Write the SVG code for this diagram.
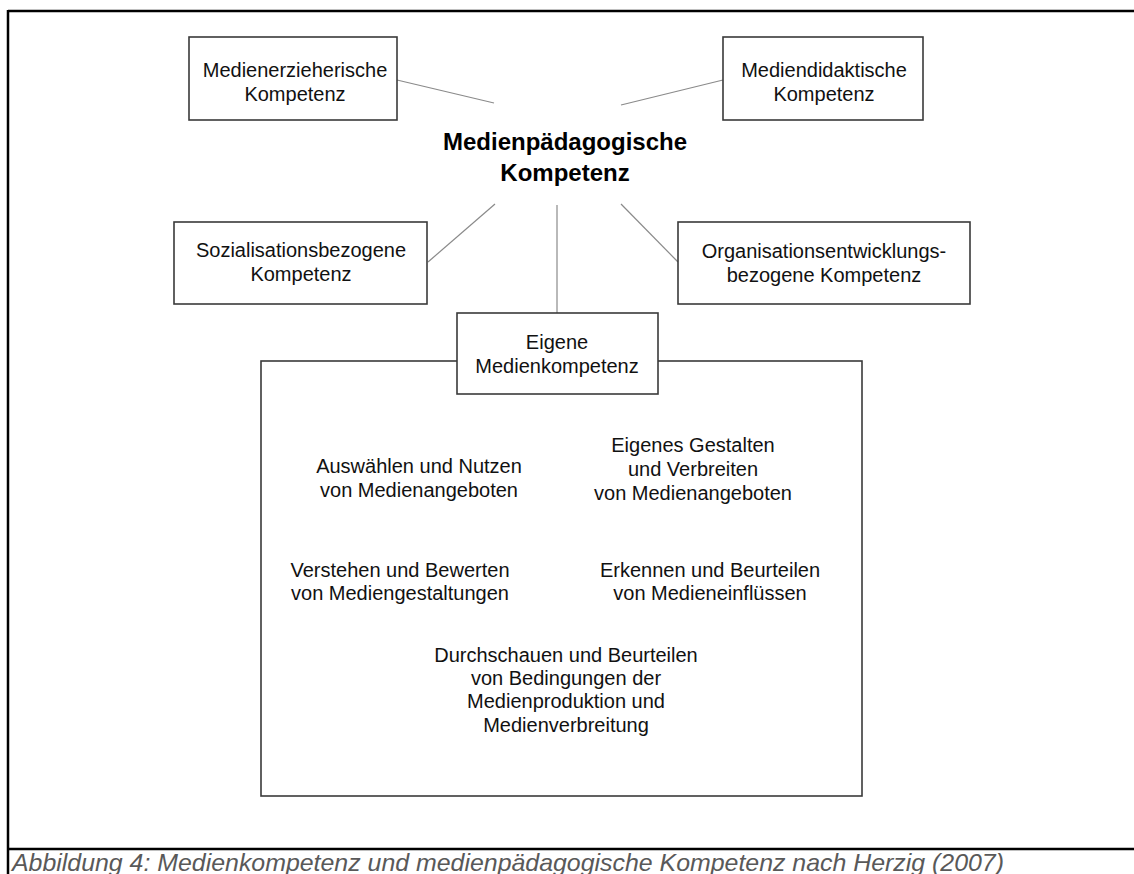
<svg xmlns="http://www.w3.org/2000/svg" width="1134" height="874" viewBox="0 0 1134 874">
<style>
.box{fill:#fff;stroke:#3a3a3a;stroke-width:1.6}
.t{font-family:"Liberation Sans",Arial,sans-serif;font-size:20px;fill:#111;text-anchor:middle}
.title{font-family:"Liberation Sans",Arial,sans-serif;font-size:24px;font-weight:bold;fill:#000;text-anchor:middle}
.con{stroke:#8a8a8a;stroke-width:1.2;fill:none}
.frame{stroke:#000;stroke-width:2.5;fill:none}
.cap{font-family:"Liberation Sans",Arial,sans-serif;font-size:24px;font-style:italic;fill:#595959}
</style>
<rect width="1134" height="874" fill="#fff"/>
<g id="frame">
<path class="frame" d="M8,11 H1134 M8,10 V874 M8,849 H1134"/>
</g>
<g id="connectors">
<line class="con" x1="397" y1="80" x2="494" y2="103"/>
<line class="con" x1="621" y1="105" x2="723" y2="80"/>
<line class="con" x1="428" y1="262" x2="495" y2="204"/>
<line class="con" x1="557" y1="205" x2="557" y2="313"/>
<line class="con" x1="621" y1="204" x2="678" y2="262"/>
</g>
<g id="center">
<text class="title" x="565" y="150">Medienpädagogische</text>
<text class="title" x="565" y="181">Kompetenz</text>
</g>
<g id="n-medienerzieherisch">
<rect class="box" x="189" y="37" width="208" height="83"/>
<text class="t" x="295" y="77">Medienerzieherische</text>
<text class="t" x="295" y="101">Kompetenz</text>
</g>
<g id="n-mediendidaktisch">
<rect class="box" x="723" y="37" width="200" height="83"/>
<text class="t" x="824" y="77">Mediendidaktische</text>
<text class="t" x="824" y="101">Kompetenz</text>
</g>
<g id="n-sozialisation">
<rect class="box" x="174" y="222" width="253" height="82"/>
<text class="t" x="301" y="257">Sozialisationsbezogene</text>
<text class="t" x="301" y="281">Kompetenz</text>
</g>
<g id="n-organisation">
<rect class="box" x="678" y="222" width="292" height="82"/>
<text class="t" x="824" y="258">Organisationsentwicklungs-</text>
<text class="t" x="824" y="282">bezogene Kompetenz</text>
</g>
<g id="n-medienkompetenz">
<rect class="box" x="261" y="361" width="601" height="435"/>
<text class="t" x="419" y="473">Auswählen und Nutzen</text>
<text class="t" x="419" y="497">von Medienangeboten</text>
<text class="t" x="693" y="452">Eigenes Gestalten</text>
<text class="t" x="693" y="476">und Verbreiten</text>
<text class="t" x="693" y="500">von Medienangeboten</text>
<text class="t" x="400" y="577">Verstehen und Bewerten</text>
<text class="t" x="400" y="600">von Mediengestaltungen</text>
<text class="t" x="710" y="577">Erkennen und Beurteilen</text>
<text class="t" x="710" y="600">von Medieneinflüssen</text>
<text class="t" x="566" y="662">Durchschauen und Beurteilen</text>
<text class="t" x="566" y="685">von Bedingungen der</text>
<text class="t" x="566" y="708">Medienproduktion und</text>
<text class="t" x="566" y="732">Medienverbreitung</text>
</g>
<g id="n-eigene">
<rect class="box" x="457" y="313" width="201" height="81"/>
<text class="t" x="557" y="349">Eigene</text>
<text class="t" x="557" y="373">Medienkompetenz</text>
</g>
<g id="caption">
<text class="cap" x="12" y="871" textLength="992" lengthAdjust="spacingAndGlyphs">Abbildung 4: Medienkompetenz und medienpädagogische Kompetenz nach Herzig (2007)</text>
</g>
</svg>
